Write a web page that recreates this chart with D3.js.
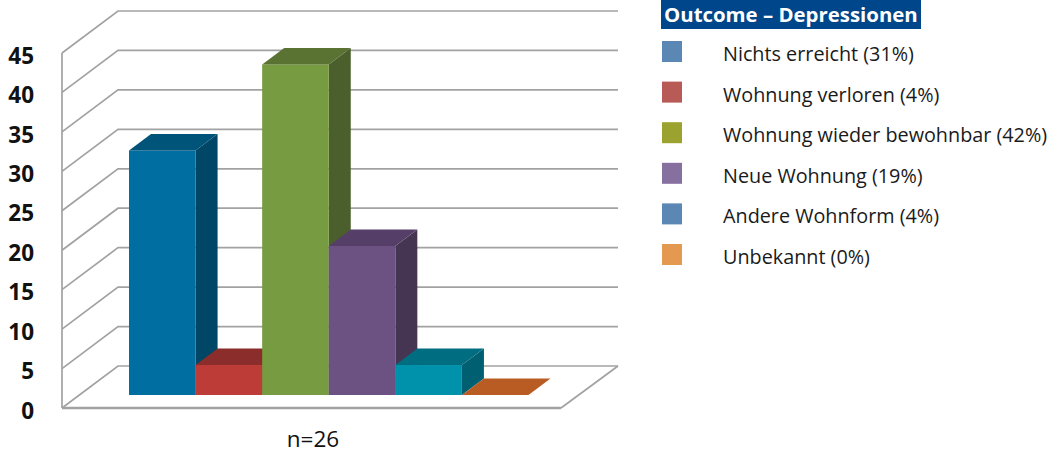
<!DOCTYPE html>
<html lang="de">
<head>
<meta charset="utf-8">
<title>Outcome - Depressionen</title>
<script src="https://d3js.org/d3.v7.min.js"></script>
<style>
	html, body { margin: 0; padding: 0; background: #fff; }
	svg { display: block; }
	text { font-family: "Open Sans", sans-serif; }
	.yAxis text { font-size: 22.5px; font-weight: 700; fill: #111; }
	.legend text { font-size: 19.8px; fill: #1a1a1a; }
</style>
</head>
<body>
<svg id="chart" width="1052" height="454"></svg>
<script>
const categories = ["Nichts erreicht", "Wohnung verloren", "Wohnung wieder bewohnbar", "Neue Wohnung", "Andere Wohnform", "Unbekannt"];
const values = [31, 3.8, 41.9, 18.9, 3.8, 0];
const shares = [31, 4, 42, 19, 4, 0];
const yTicks = [0, 5, 10, 15, 20, 25, 30, 35, 40, 45];
const title = "Outcome – Depressionen";
const sampleLabel = "n=26";

const frontColors = ["#006ea0", "#be3c37", "#779b40", "#6c5183", "#0092ab", "#b85c24"];
const topColors = ["#005479", "#8a2d2b", "#5a7232", "#553f68", "#006d80", "#b85c24"];
const sideColors = ["#004666", "#8a2d2b", "#4a5f2b", "#453452", "#005f70", "#b85c24"];
const legendColors = ["#5a87b4", "#b85a55", "#9ba32e", "#86709f", "#5a87b4", "#e39a50"];

const svg = d3.select("#chart");

// 3d box: the wall sits deepX/deepY behind the front plane, bars halfway-ish
const deepX = 56, deepY = 42, barDeepX = 22, barDeepY = 16.5, barLift = 13;

const y = d3.scaleLinear().domain([0, 45]).range([408, 53]);
const x = d3.scaleBand().domain(categories).range([129, 528.5]);
const gridRight = 618;
const floorRight = 561;
const frontLeft = 62;

const poly = pts => pts.map(p => p.join(",")).join(" ");
const grid = svg.append("g").attr("fill", "none").attr("stroke", "#a2a2a2").attr("stroke-width", 1.7);

// grid lines, wall corner then back wall
grid.selectAll("polyline").data(yTicks).enter().append("polyline")
	.attr("points", d => poly([[frontLeft, y(d)], [frontLeft + deepX, y(d) - deepY], [gridRight, y(d) - deepY]]));

// left edge and floor outline
grid.append("line").attr("x1", frontLeft).attr("x2", frontLeft).attr("y1", y(45)).attr("y2", y(0));
grid.append("polyline")
	.attr("stroke-width", 2.4)
	.attr("points", poly([[frontLeft, y(0)], [floorRight, y(0)]]));
grid.append("line")
	.attr("x1", floorRight).attr("y1", y(0))
	.attr("x2", gridRight).attr("y2", y(0) - deepY);

const axis = d3.axisLeft(y).tickValues(yTicks).tickSize(0).tickPadding(0);
const axisG = svg.append("g").attr("class", "yAxis")
	.attr("transform", "translate(34,3)")
	.call(axis);
axisG.select(".domain").remove();
axisG.selectAll("text").style("font-family", null);

const bars = svg.append("g").selectAll("g").data(categories).enter().append("g");
const bw = x.bandwidth();
const barBottom = y(0) - barLift;
const barTop = (i) => y(values[i]) - barLift;

// side face
bars.append("polygon")
	.attr("fill", (d, i) => sideColors[i])
	.attr("points", (d, i) => {
		const r = x(d) + bw;
		return poly([[r, barTop(i)], [r + barDeepX, barTop(i) - barDeepY], [r + barDeepX, barBottom - barDeepY], [r, barBottom]]);
	});
// front face
bars.append("rect")
	.attr("x", d => x(d))
	.attr("width", bw)
	.attr("y", (d, i) => barTop(i))
	.attr("height", (d, i) => barBottom - barTop(i))
	.attr("fill", (d, i) => frontColors[i]);
// top face
bars.append("polygon")
	.attr("fill", (d, i) => topColors[i])
	.attr("points", (d, i) => {
		const l = x(d), r = l + bw, t = barTop(i);
		return poly([[l, t], [r, t], [r + barDeepX, t - barDeepY], [l + barDeepX, t - barDeepY]]);
	});

svg.append("text")
	.attr("x", 313).attr("y", 447)
	.attr("text-anchor", "middle")
	.attr("font-size", 22.5)
	.attr("fill", "#111")
	.text(sampleLabel);

// legend
const legendY = d3.scalePoint().domain(categories).range([41, 244]);
const legend = svg.append("g").attr("class", "legend");
legend.append("rect").attr("x", 661).attr("y", 0).attr("width", 260).attr("height", 29).attr("fill", "#00468b");
legend.append("text")
	.attr("x", 664).attr("y", 22)
	.style("font-size", "20.4px").style("font-weight", 700).style("fill", "#fff")
	.text(title);

const rows = legend.selectAll("g.row").data(categories).enter().append("g").attr("class", "row");
rows.append("rect")
	.attr("x", 662).attr("y", d => legendY(d))
	.attr("width", 20).attr("height", 21)
	.attr("fill", (d, i) => legendColors[i]);
rows.append("text")
	.attr("x", 723).attr("y", d => legendY(d) + 20)
	.text((d, i) => d + " (" + shares[i] + "%)");
</script>
</body>
</html>
